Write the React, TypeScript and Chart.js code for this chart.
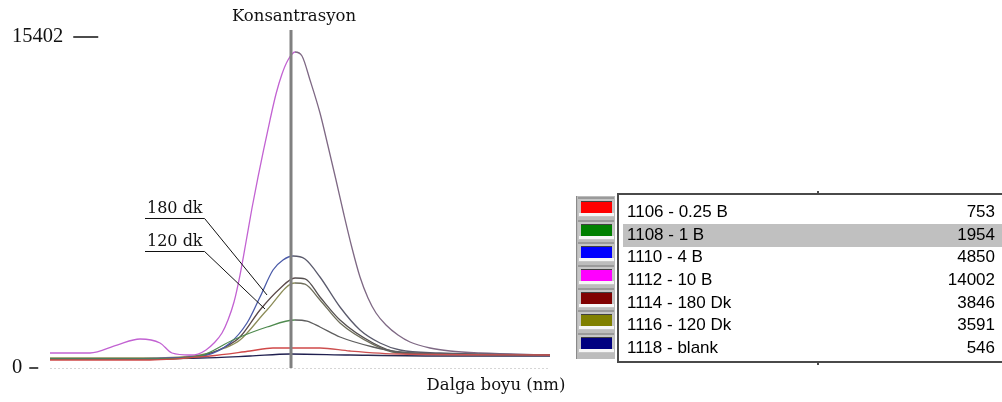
import React, { useEffect, useRef } from 'react';
import { Chart, registerables } from 'chart.js';

Chart.register(...registerables);

// ---------- data ----------
const seriesNames = ['1106 - 0.25 B', '1108 - 1 B', '1110 - 4 B', '1112 - 10 B', '1114 - 180 Dk', '1116 - 120 Dk', '1118 - blank'];
const legendValues = [753, 1954, 4850, 14002, 3846, 3591, 546];
const yTicks = [0, 15402];
const cursorX = 241;
const xMin = 0;
const xMax = 500;
const cursorTitle = 'Konsantrasyon';
const xTitle = 'Dalga boyu (nm)';

const s1106: [number, number][] = [[0, 372], [100, 372], [160, 558], [200, 791], [223, 931], [270, 931], [300, 791], [350, 651], [500, 605]];
const s1108: [number, number][] = [[0, 419], [110, 419], [150, 558], [183, 1303], [217, 1908], [245, 2233], [257, 2180], [270, 1908], [290, 1442], [323, 977], [350, 744], [400, 651], [500, 605]];
const s1110: [number, number][] = [[0, 419], [60, 419], [120, 465], [157, 605], [180, 1163], [197, 2094], [210, 3304], [223, 4560], [233, 5025], [243, 5211], [255, 5072], [270, 4234], [290, 2838], [310, 1768], [330, 1163], [350, 838], [390, 698], [500, 605]];
const s1112: [number, number][] = [[0, 698], [40, 698], [67, 1070], [90, 1349], [110, 1163], [122, 698], [140, 605], [148, 651], [156, 838], [164, 1163], [172, 1629], [178, 2233], [184, 3071], [190, 4327], [196, 5863], [202, 7445], [208, 8887], [214, 10236], [220, 11539], [226, 12749], [232, 13680], [238, 14331], [245, 14703], [252, 14517], [260, 13401], [270, 11865], [278, 10330], [286, 8748], [294, 7119], [302, 5583], [310, 4234], [318, 3257], [326, 2559], [336, 2001], [348, 1535], [360, 1210], [380, 931], [400, 791], [430, 698], [500, 605]];
const s1114: [number, number][] = [[0, 419], [100, 419], [150, 558], [175, 977], [190, 1442], [210, 2699], [230, 3700], [245, 4188], [255, 4150], [270, 3304], [290, 2233], [323, 1163], [347, 744], [400, 651], [500, 605]];
const s1116: [number, number][] = [[0, 465], [100, 465], [150, 605], [175, 931], [190, 1303], [217, 2699], [245, 3955], [255, 3900], [270, 3164], [290, 2094], [323, 1100], [347, 700], [400, 620], [500, 605]];
const s1118: [number, number][] = [[0, 419], [150, 465], [200, 558], [240, 651], [300, 605], [400, 558], [500, 558]];
const seriesData = [s1106, s1108, s1110, s1112, s1114, s1116, s1118];

const leaderLabels = ['180 dk', '120 dk'];
const leaderAnchors: [number, number][] = [[95, 6980], [95, 5444]];
const leaderTargets: [number, number][] = [[217, 3397], [215, 2745]];

// ---------- styles ----------
const swatchColors = ['#ff0000', '#008000', '#0000ff', '#ff00ff', '#800000', '#808000', '#000080'];
const leftColors = ['#d04848', '#4e8a4e', '#4a5aa8', '#c262d2', '#5a4848', '#8c8c58', '#202050'];
const rightColors = ['#cc5050', '#5e5e5e', '#5a5a6c', '#7e6884', '#555050', '#6e6e5a', '#2a2a50'];
const highlightRow = 1;

const overlayPlugin = {
  id: 'overlay',
  beforeDatasetsDraw(chart: any) {
    const { ctx, chartArea, scales } = chart;
    const y0 = scales.y.getPixelForValue(0);
    ctx.save();
    ctx.strokeStyle = '#d6d6d6';
    ctx.lineWidth = 1;
    ctx.setLineDash([2, 2]);
    ctx.beginPath();
    ctx.moveTo(chartArea.left, y0 + 0.5);
    ctx.lineTo(chartArea.right, y0 + 0.5);
    ctx.stroke();
    ctx.restore();
  },
  afterDatasetsDraw(chart: any) {
    const { ctx, chartArea, scales } = chart;
    const xs = scales.x;
    const ys = scales.y;
    ctx.save();
    // cursor line
    const cx = xs.getPixelForValue(cursorX);
    ctx.strokeStyle = '#808080';
    ctx.lineWidth = 3;
    ctx.beginPath();
    ctx.moveTo(cx, chartArea.top - 7);
    ctx.lineTo(cx, ys.getPixelForValue(0));
    ctx.stroke();
    ctx.fillStyle = '#111';
    ctx.font = '16.5px "DejaVu Serif"';
    ctx.textAlign = 'center';
    ctx.textBaseline = 'middle';
    ctx.fillText(cursorTitle, cx + 3, 17);

    // y ticks
    ctx.font = '20.5px "Liberation Serif"';
    ctx.textAlign = 'left';
    ctx.strokeStyle = '#111';
    ctx.lineWidth = 1.5;
    yTicks.forEach((t) => {
      const py = ys.getPixelForValue(t);
      const label = String(t);
      const isTop = t === yTicks[yTicks.length - 1];
      ctx.fillText(label, 12, py);
      const w = ctx.measureText(label).width;
      const dashStart = 12 + w + (isTop ? 10 : 7);
      const dashLen = isTop ? 25 : 9;
      ctx.beginPath();
      ctx.moveTo(dashStart, py);
      ctx.lineTo(dashStart + dashLen, py);
      ctx.stroke();
    });

    // x title
    ctx.font = '16.5px "DejaVu Serif"';
    ctx.textAlign = 'center';
    ctx.fillText(xTitle, chartArea.right - 54, 386);

    // leader labels
    ctx.font = '16px "DejaVu Serif"';
    ctx.textAlign = 'left';
    ctx.textBaseline = 'alphabetic';
    ctx.lineWidth = 1;
    leaderLabels.forEach((lab, i) => {
      const ax = xs.getPixelForValue(leaderAnchors[i][0]);
      const ay = ys.getPixelForValue(leaderAnchors[i][1]);
      const tx = xs.getPixelForValue(leaderTargets[i][0]);
      const ty = ys.getPixelForValue(leaderTargets[i][1]);
      const w = ctx.measureText(lab).width;
      ctx.fillText(lab, ax + 2, ay - 5);
      ctx.beginPath();
      ctx.moveTo(ax, ay + 0.5);
      ctx.lineTo(ax + w + 4, ay + 0.5);
      ctx.lineTo(tx, ty);
      ctx.stroke();
    });
    ctx.restore();
  },
};

export default function App() {
  const ref = useRef<HTMLCanvasElement>(null);
  useEffect(() => {
    if (!ref.current) return;
    const chart = new Chart(ref.current, {
      type: 'line',
      data: {
        datasets: seriesData.map((s, i) => ({
          label: seriesNames[i],
          data: s.map(([x, y]) => ({ x, y })),
          borderColor: leftColors[i],
          borderWidth: 1.3,
          pointRadius: 0,
          fill: false,
          cubicInterpolationMode: 'monotone' as const,
          segment: {
            borderColor: (c: any) => (c.p0.parsed.x >= cursorX ? rightColors[i] : leftColors[i]),
          },
        })),
      },
      options: {
        animation: false,
        responsive: false,
        devicePixelRatio: 1,
        layout: { padding: { left: 50, right: 452, top: 37, bottom: 34 } },
        plugins: { legend: { display: false }, tooltip: { enabled: false }, title: { display: false } },
        scales: {
          x: { type: 'linear', min: xMin, max: xMax, display: false },
          y: { type: 'linear', min: yTicks[0], max: yTicks[yTicks.length - 1], display: false },
        },
      },
      plugins: [overlayPlugin],
    });
    return () => chart.destroy();
  }, []);

  const rowStep = 22.67;
  return (
    <div style={{ position: 'fixed', left: 0, top: 0, width: 1002, height: 402, background: '#fff', overflow: 'hidden' }}>
      <canvas ref={ref} width={1002} height={402} style={{ position: 'absolute', left: 0, top: 0, width: 1002, height: 402 }} />
      {/* swatch buttons */}
      <div style={{ position: 'absolute', left: 576, top: 196, width: 39, height: 163, background: '#bcbcbc', borderLeft: '1px solid #8a8a8a', boxSizing: 'border-box' }} />
      {seriesNames.map((n, i) => (
        <div
          key={'sw' + n}
          style={{
            position: 'absolute', left: 578, top: 197 + i * rowStep, width: 36, height: 20,
            background: '#c6c6c6', borderTop: '2px solid #9a9a9a', boxSizing: 'border-box',
          }}
        >
          <div style={{ position: 'absolute', left: 3, top: 2, width: 31, height: 12, background: swatchColors[i], borderTop: '1px solid #404040', boxSizing: 'border-box' }} />
          <div style={{ position: 'absolute', left: 1, top: 14, width: 35, height: 3, background: '#f6f6f6' }} />
        </div>
      ))}
      {/* table frame */}
      <div style={{ position: 'absolute', left: 617, top: 193, width: 2, height: 170, background: '#4a4a4a' }} />
      <div style={{ position: 'absolute', left: 617, top: 193, width: 385, height: 2, background: '#4a4a4a' }} />
      <div style={{ position: 'absolute', left: 617, top: 361, width: 385, height: 2, background: '#4a4a4a' }} />
      <div style={{ position: 'absolute', left: 817, top: 191, width: 2, height: 4, background: '#4a4a4a' }} />
      <div style={{ position: 'absolute', left: 817, top: 361, width: 2, height: 4, background: '#4a4a4a' }} />
      {/* highlight */}
      <div style={{ position: 'absolute', left: 623, top: 223.5 + (highlightRow - 1) * rowStep, width: 379, height: 23, background: '#c0c0c0' }} />
      {seriesNames.map((n, i) => (
        <div
          key={'row' + n}
          style={{
            position: 'absolute', left: 627, top: 202 + i * rowStep, width: 368, height: 22, lineHeight: '22px',
            display: 'flex', justifyContent: 'space-between', font: '17px "Liberation Sans", Arial, sans-serif', color: '#000',
          }}
        >
          <span>{n}</span>
          <span>{legendValues[i]}</span>
        </div>
      ))}
    </div>
  );
}
